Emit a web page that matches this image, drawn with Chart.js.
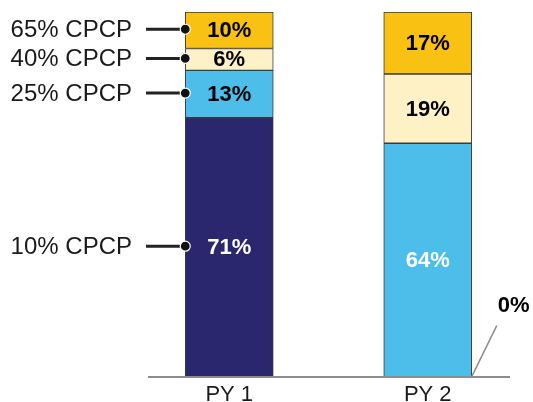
<!DOCTYPE html>
<html>
<head>
<meta charset="utf-8">
<script src="https://cdn.jsdelivr.net/npm/chart.js@4/dist/chart.umd.min.js"></script>
<style>
html,body{margin:0;padding:0;background:#fff;}
#wrap{width:533px;height:402px;position:relative;}
</style>
</head>
<body>
<div id="wrap"><canvas id="c" width="533" height="402"></canvas></div>
<script>
const categories = ["PY 1", "PY 2"];
const seriesNames = ["10% CPCP", "25% CPCP", "40% CPCP", "65% CPCP"];
const cpcp10 = [71, 0];
const cpcp25 = [13, 64];
const cpcp40 = [6, 19];
const cpcp65 = [10, 17];
const seriesColors = ["#2B276F", "#4CBEE9", "#FFF1C6", "#F9C212"];
const labelColors = [["#ffffff", "#ffffff"], ["#000000", "#ffffff"], ["#000000", "#000000"], ["#000000", "#000000"]];

const seriesValues = [cpcp10, cpcp25, cpcp40, cpcp65];
const FONT = "'Liberation Sans', Arial, sans-serif";

const overlay = {
  id: 'overlay',
  afterDatasetsDraw(chart) {
    const ctx = chart.ctx;
    const area = chart.chartArea;
    // baseline
    ctx.save();
    ctx.strokeStyle = '#8c8c8c';
    ctx.lineWidth = 2;
    ctx.beginPath();
    ctx.moveTo(148, area.bottom + 0.5);
    ctx.lineTo(510, area.bottom + 0.5);
    ctx.stroke();

    // data labels
    ctx.font = 'bold 22px ' + FONT;
    ctx.textAlign = 'center';
    ctx.textBaseline = 'middle';
    chart.data.datasets.forEach((ds, di) => {
      const meta = chart.getDatasetMeta(di);
      meta.data.forEach((el, i) => {
        const v = ds.data[i];
        if (!v) return;
        const cy = (el.y + el.base) / 2;
        ctx.fillStyle = labelColors[di][i];
        ctx.fillText(v + '%', el.x, cy + 1);
      });
    });

    // left series labels with leader lines (at first bar)
    ctx.font = '24px ' + FONT;
    ctx.textAlign = 'right';
    chart.data.datasets.forEach((ds, di) => {
      const el = chart.getDatasetMeta(di).data[0];
      const cy = (el.y + el.base) / 2 - 1;
      const left = el.x - el.width / 2;
      ctx.fillStyle = '#1a1a1a';
      ctx.fillText(seriesNames[di], 132, cy + 1);
      ctx.strokeStyle = '#222';
      ctx.lineWidth = 3;
      ctx.beginPath();
      ctx.moveTo(146, cy);
      ctx.lineTo(left, cy);
      ctx.stroke();
      ctx.beginPath();
      ctx.arc(left, cy, 5, 0, Math.PI * 2);
      ctx.fillStyle = '#111';
      ctx.fill();
      ctx.strokeStyle = '#fff';
      ctx.lineWidth = 1.2;
      ctx.stroke();
    });

    // zero-value label
    chart.data.datasets.forEach((ds, di) => {
      const meta = chart.getDatasetMeta(di);
      meta.data.forEach((el, i) => {
        if (ds.data[i] !== 0) return;
        const right = el.x + el.width / 2;
        ctx.strokeStyle = '#8c8c8c';
        ctx.lineWidth = 1.5;
        ctx.beginPath();
        ctx.moveTo(right, el.base);
        ctx.lineTo(right + 25, el.base - 51);
        ctx.stroke();
        ctx.font = 'bold 22px ' + FONT;
        ctx.textAlign = 'left';
        ctx.fillStyle = '#000';
        ctx.fillText(ds.data[i] + '%', right + 26, el.base - 71);
      });
    });
    ctx.restore();
  }
};

new Chart(document.getElementById('c'), {
  type: 'bar',
  data: {
    labels: categories,
    datasets: seriesNames.map((name, i) => ({
      label: name,
      data: seriesValues[i],
      backgroundColor: seriesColors[i],
      borderColor: '#3a3a3a',
      borderWidth: (c) => (c.raw ? 1 : 0),
      borderSkipped: false,
      barThickness: 88
    }))
  },
  options: {
    responsive: false,
    animation: false,
    devicePixelRatio: 1,
    layout: { padding: { left: 130, right: 6, top: 12, bottom: -3 } },
    plugins: { legend: { display: false }, tooltip: { enabled: false } },
    scales: {
      x: {
        stacked: true,
        grid: { display: false },
        border: { display: false },
        ticks: { color: '#1a1a1a', font: { family: FONT, size: 22 }, padding: -3 }
      },
      y: {
        stacked: true,
        display: false,
        min: 0,
        max: 100
      }
    }
  },
  plugins: [overlay]
});
</script>
</body>
</html>
